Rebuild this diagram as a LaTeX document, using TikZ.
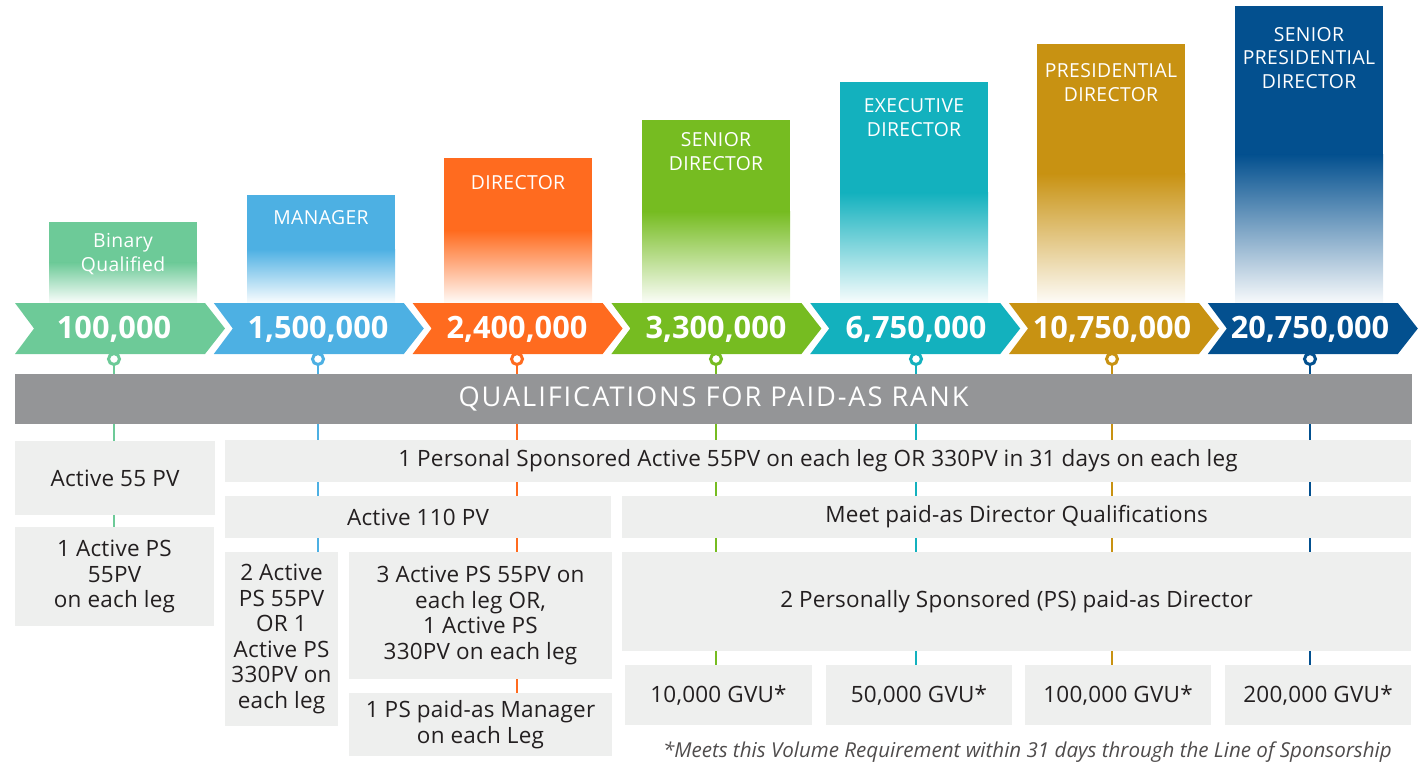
\documentclass[tikz,border=0pt]{standalone}
\usepackage{fontspec}
\setmainfont{Open Sans}
\usetikzlibrary{backgrounds}

\definecolor{rkgreen}{HTML}{6DCA98}
\definecolor{rkblue}{HTML}{4DB0E3}
\definecolor{rkorange}{HTML}{FF6B1F}
\definecolor{rklime}{HTML}{76BC21}
\definecolor{rkteal}{HTML}{13B1BE}
\definecolor{rkgold}{HTML}{C89212}
\definecolor{rknavy}{HTML}{03508F}
\definecolor{bandgray}{HTML}{949597}
\definecolor{boxgray}{HTML}{EEEFEE}
\definecolor{txtgray}{HTML}{231F20}

\begin{document}
\begin{tikzpicture}[
    x=0.02cm, y=-0.02cm,
    every node/.style={text=txtgray},
    ranklabel/.style={text=white, align=center, font=\addfontfeatures{LetterSpace=2}\fontsize{11}{13.6}\selectfont},
    rankvalue/.style={text=white, font=\bfseries\fontsize{17.5}{19}\selectfont},
    rankdot/.style={circle, draw=#1, fill=white, line width=0.06cm, minimum size=0.22cm, inner sep=0pt},
    stem/.style={draw=#1, line width=0.04cm},
    qbox/.style={rectangle, fill=boxgray, align=center, inner sep=0pt,
      font=\addfontfeatures{LetterSpace=1}\fontsize{12.8}{14.5}\selectfont}
]
\useasboundingbox (0,0) rectangle (1424,765);

% Rank bars, chevrons and dots
\foreach \c/\xl/\top/\ly/\cx/\name/\val [count=\i from 0] in {
    {rkgreen/49/222/254/114/Binary\\Qualified/100,000},
    {rkblue/247/195/218/318/MANAGER/1,500,000},
    {rkorange/444/158/183/517/DIRECTOR/2,400,000},
    {rklime/642/120/152/716/SENIOR\\DIRECTOR/3,300,000},
    {rkteal/840/82/118/916/EXECUTIVE\\DIRECTOR/6,750,000},
    {rkgold/1037/44/83/1112/PRESIDENTIAL\\DIRECTOR/10,750,000},
    {rknavy/1235/6/58/1310/SENIOR\\PRESIDENTIAL\\DIRECTOR/20,750,000}}{
  \pgfmathsetmacro\xo{15+198.8*\i}
  \pgfmathsetmacro\ys{303-0.5*(303-\top)}
  \fill[\c] (\xl,\top) rectangle (\xl+148,\ys+1);
  \shade[top color=\c, bottom color=\c!3] (\xl,\ys) rectangle (\xl+148,303);
  \fill[\c] (\xo,303) -- (\xo+190,303) -- (\xo+210,328.5) -- (\xo+190,354)
    -- (\xo,354) -- (\xo+19,328.5) -- cycle;
  \node[ranklabel] (r\i) at (\xl+74,\ly) {\name};
  \node[rankvalue] (v\i) at (\cx,329) {\val};
  \node[rankdot=\c] (d\i) at (\cx,359) {};
}

% Band
\node[fill=bandgray, text=white, minimum width=27.94cm, minimum height=1cm, inner sep=0pt,
  font=\addfontfeatures{LetterSpace=7}\fontsize{15.5}{17}\selectfont] (qual) at (713.5,399) {QUALIFICATIONS FOR PAID-AS RANK};

% Qualification boxes
\node[qbox, minimum width=4cm, minimum height=1.48cm] (a55) at (115,478) {Active 55 PV};
\node[qbox, minimum width=3.98cm, minimum height=1.98cm] (ps55) at (114.5,576.5) {1 Active PS\\55PV\\on each leg};
\node[qbox, minimum width=23.72cm, minimum height=0.84cm] (pers) at (818,461) {1 Personal Sponsored Active 55PV on each leg OR 330PV in 31 days on each leg};
\node[qbox, minimum width=7.72cm, minimum height=0.84cm] (a110) at (418,517) {Active 110 PV};
\node[qbox, minimum width=15.78cm, minimum height=0.84cm] (meet) at (1016.5,517) {Meet paid-as Director Qualifications};
\node[qbox, minimum width=2.26cm, minimum height=3.48cm] (two) at (281.5,639) {2 Active\\PS 55PV\\OR 1\\Active PS\\330PV on\\each leg};
\node[qbox, minimum width=5.26cm, minimum height=2.54cm] (three) at (480.5,615.5) {3 Active PS 55PV on\\each leg OR,\\1 Active PS\\330PV on each leg};
\node[qbox, minimum width=5.26cm, minimum height=1.26cm] (mgr) at (480.5,724.5) {1 PS paid-as Manager\\on each Leg};
\node[qbox, minimum width=15.78cm, minimum height=1.98cm] (pdir) at (1016.5,601.5) {2 Personally Sponsored (PS) paid-as Director};
\node[qbox, minimum width=3.74cm, minimum height=1.2cm] (gvu1) at (718.5,695) {10,000 GVU*};
\node[qbox, minimum width=3.72cm, minimum height=1.2cm] (gvu2) at (919,695) {50,000 GVU*};
\node[qbox, minimum width=3.72cm, minimum height=1.2cm] (gvu3) at (1118,695) {100,000 GVU*};
\node[qbox, minimum width=3.72cm, minimum height=1.2cm] (gvu4) at (1318,695) {200,000 GVU*};

\node[anchor=east, font=\itshape\fontsize{11.7}{13}\selectfont, text=txtgray!80] (note) at (1398,752)
  {*Meets this Volume Requirement within 31 days through the Line of Sponsorship};

% Stems behind everything
\begin{scope}[on background layer]
\foreach \i/\c/\b in {0/rkgreen/ps55, 1/rkblue/two, 2/rkorange/mgr, 3/rklime/gvu1,
    4/rkteal/gvu2, 5/rkgold/gvu3, 6/rknavy/gvu4}
  \draw[stem=\c] (d\i) -- (d\i |- \b.north);
\end{scope}

\end{tikzpicture}
\end{document}
